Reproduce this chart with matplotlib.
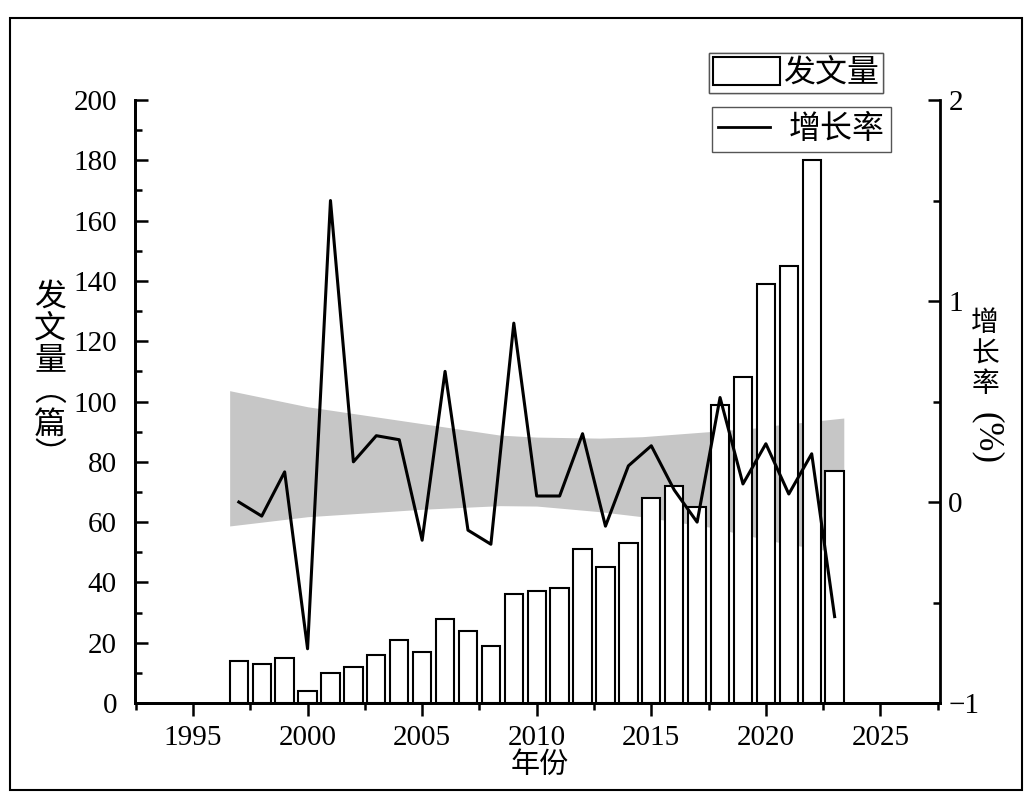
import numpy as np
import matplotlib
matplotlib.use("Agg")
import matplotlib.pyplot as plt
from matplotlib.patches import Rectangle, Patch
from matplotlib.lines import Line2D

years = list(range(1997, 2024))
papers = [14, 13, 15, 4, 10, 12, 16, 21, 17, 28, 24, 19, 36, 37, 38,
          51, 45, 53, 68, 72, 65, 99, 108, 139, 145, 180, 77]
growth = [0.00, -0.07, 0.15, -0.73, 1.50, 0.20, 0.33, 0.31, -0.19, 0.65,
          -0.14, -0.21, 0.89, 0.03, 0.03, 0.34, -0.12, 0.18, 0.28, 0.06,
          -0.10, 0.52, 0.09, 0.29, 0.04, 0.24, -0.57]

# gray band (rate units)
band_x = [1996.6, 2000, 2005, 2008.4, 2010, 2012.75, 2014.6, 2017.5, 2019.5, 2020.5, 2021.5, 2023.4]
band_hi = [0.554, 0.474, 0.39, 0.333, 0.323, 0.318, 0.325, 0.35, 0.368, 0.383, 0.395, 0.418]
band_lo = [-0.119, -0.073, -0.036, -0.018, -0.02, -0.048, -0.073, -0.124, -0.174, -0.199, -0.219, -0.255]

serif = 'Liberation Serif'
cjk = ['Noto Sans CJK SC', 'DejaVu Sans']

fig = plt.figure(figsize=(10.33, 7.99), dpi=100)
ax1 = fig.add_axes([0.1307, 0.1201, 0.91 - 0.1307, 0.8748 - 0.1201])
ax2 = ax1.twinx()

ax1.set_xlim(1992.47, 2027.6)
ax1.set_ylim(0, 200)
ax2.set_ylim(-1, 2)

ax1.fill_between(band_x, band_hi, band_lo, transform=ax2.transData,
                 color='#c6c6c6', lw=0, zorder=0)
ax1.bar(years, papers, width=0.8, color='white', edgecolor='black', lw=1.5, zorder=2)
ax2.plot(years, growth, color='black', lw=2.2, zorder=3)

for a in (ax1, ax2):
    a.spines['top'].set_visible(False)
    for s in ('left', 'right', 'bottom'):
        a.spines[s].set_linewidth(2)
ax1.spines['right'].set_visible(False)

ax1.set_xticks([1995, 2000, 2005, 2010, 2015, 2020, 2025])
ax1.set_xticks(np.arange(1992.5, 2027.6, 2.5), minor=True)
ax1.set_yticks(range(0, 201, 20))
ax1.set_yticks(range(10, 200, 20), minor=True)
ax2.set_yticks([-1, 0, 1, 2])
ax2.set_yticks([-0.5, 0.5, 1.5], minor=True)

ax1.tick_params(axis='x', which='major', direction='out', length=9, width=1.8, pad=7)
ax1.tick_params(axis='x', which='minor', direction='out', length=5, width=1.8)
ax1.tick_params(axis='y', which='major', direction='in', length=9, width=1.8, pad=13)
ax1.tick_params(axis='y', which='minor', direction='in', length=5, width=1.8)
ax2.tick_params(axis='y', which='major', direction='in', length=9, width=1.8, pad=6)
ax2.tick_params(axis='y', which='minor', direction='in', length=5, width=1.8)

for lab in ax1.get_xticklabels() + ax1.get_yticklabels():
    lab.set_fontfamily(serif)
    lab.set_fontsize(21)
ax2.set_yticklabels(['\u22121', '0', '1', '2'], fontfamily=serif, fontsize=21)

# axis titles
fig.text(50 / 1033, 0.529, '发\n文\n量\n︵\n篇\n︶', family=cjk, fontsize=23,
         ha='center', va='center', linespacing=1.0)
fig.text(985 / 1033, 0.558, '增\n长\n率', family=cjk, fontsize=20,
         ha='center', va='center', linespacing=1.02)
fig.text(987 / 1033, 0.452, '(%)', family=serif, fontsize=25, rotation=-90,
         ha='center', va='center')
fig.text(540 / 1033, 0.0426, '年份', family=cjk, fontsize=21, ha='center', va='center')

# two boxed legends
leg1 = fig.legend(handles=[Patch(facecolor='white', edgecolor='black', lw=1.5)],
                  labels=['发文量'], loc='upper left', bbox_to_anchor=(0.6864, 0.9337),
                  prop={'family': cjk, 'size': 23}, fancybox=False, framealpha=1,
                  edgecolor='#555555', handlelength=2.1, handleheight=0.95,
                  handletextpad=0.1, borderpad=0.12, borderaxespad=0)
leg1.get_frame().set_linewidth(1.0)
leg2 = fig.legend(handles=[Line2D([], [], color='black', lw=2)],
                  labels=['增长率'], loc='upper left', bbox_to_anchor=(0.6893, 0.8661),
                  prop={'family': cjk, 'size': 23}, fancybox=False, framealpha=1,
                  edgecolor='#555555', handlelength=1.6, handletextpad=0.6,
                  borderpad=0.2, borderaxespad=0)
leg2.get_frame().set_linewidth(1.0)
fig.add_artist(leg1)

# outer border
fig.add_artist(Rectangle((10 / 1033, 1 - 790 / 799), 1012 / 1033, 772 / 799,
                         transform=fig.transFigure, fill=False, edgecolor='black', lw=1.5))

fig.savefig('out.png', dpi=100)
